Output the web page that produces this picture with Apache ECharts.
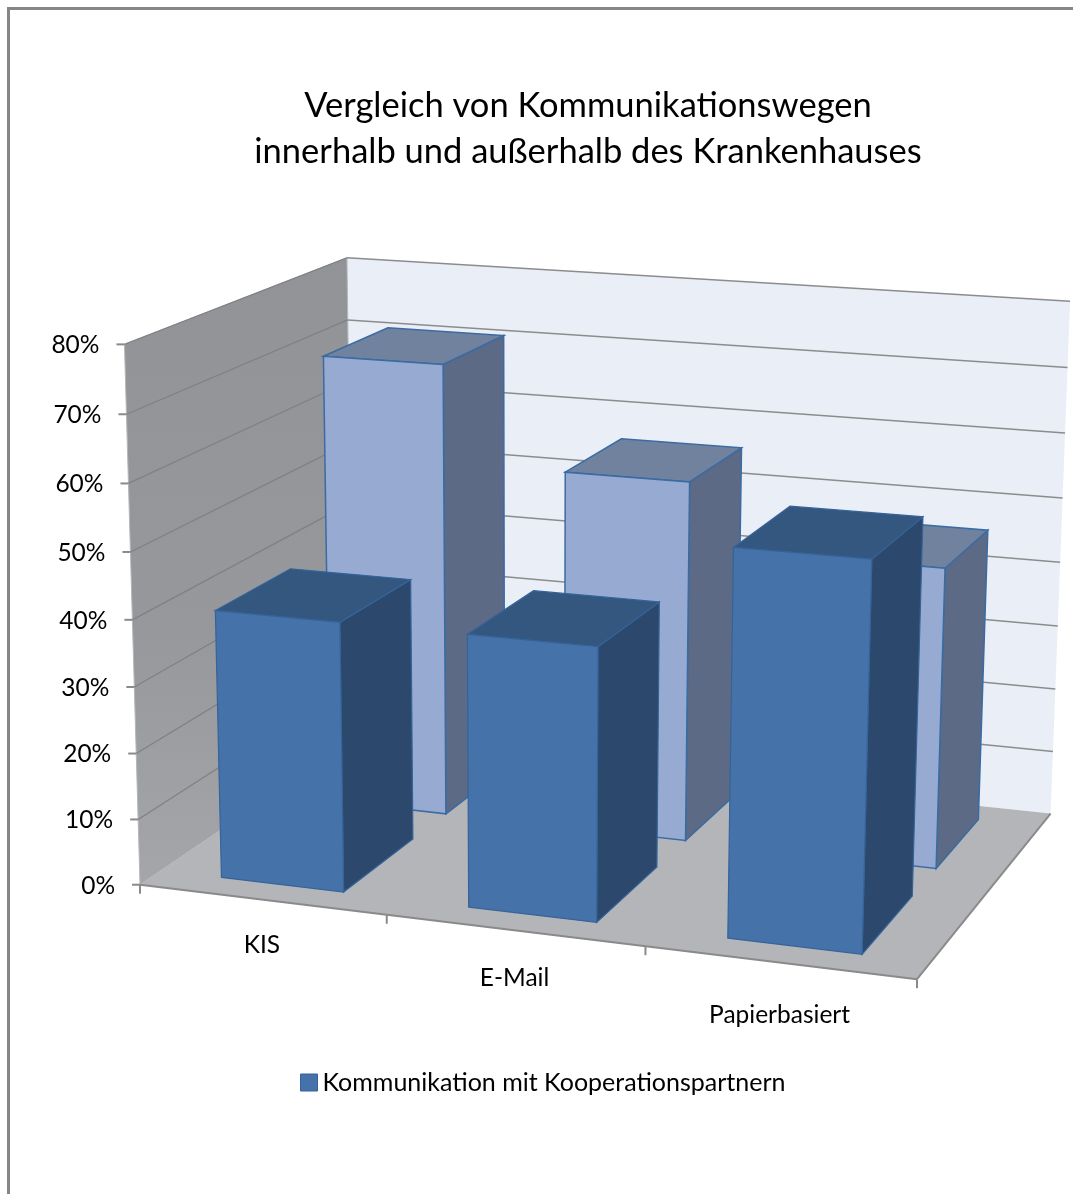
<!DOCTYPE html>
<html>
<head>
<meta charset="utf-8">
<title>Vergleich von Kommunikationswegen</title>
<script src="https://cdn.jsdelivr.net/npm/echarts@6/dist/echarts.min.js"></script>
<style>
  html, body { margin: 0; padding: 0; background: #fff; }
  #chart { width: 1073px; height: 1194px; }
</style>
</head>
<body>
<div id="chart"></div>
<script>
// chart values
const categories = ["KIS", "E-Mail", "Papierbasiert"];
const frontName = "Kommunikation mit Kooperationspartnern";
const backName = "Kommunikation innerhalb des Krankenhauses";
const frontValues = [40.5, 40.5, 56.3];
const backValues = [70.5, 55.5, 45.7];
const tickValues = [0, 10, 20, 30, 40, 50, 60, 70, 80];
const tickLabels = ["0%", "10%", "20%", "30%", "40%", "50%", "60%", "70%", "80%"];

const FONT = "Lato";
const BAR_WIDTH = 0.5; // share of the category band
const FRONT_DEPTH = [0.09, 0.425];
const BACK_DEPTH = [0.595, 0.915];
const CATEGORY_LABEL_DROP = [46, 48, 53];

// the 3d box (x along categories, y up, z into the picture) is seen in perspective.
// calibration of the camera: box position -> pixel
const calibration = [
  [0, 0, 0, 142, 884],
  [1 / 3, 0, 0, 387, 915],
  [2 / 3, 0, 0, 645, 948],
  [1, 0, 0, 917, 978],
  [0, 1, 0, 123, 344],
  [0, 0.5, 0, 132, 620],
  [0, 0, 1, 351, 740],
  [0, 1, 1, 349, 258],
  [1, 0, 1, 1052, 813],
  [1, 0.5, 1, 1059, 563],
  [1, 1, 1, 1070, 301],
];

function solveLinear(A, b) {
  const n = b.length;
  const m = A.map((row, i) => [...row, b[i]]);
  for (let c = 0; c < n; c++) {
    let p = c;
    for (let r = c + 1; r < n; r++) {
      if (Math.abs(m[r][c]) > Math.abs(m[p][c])) p = r;
    }
    [m[c], m[p]] = [m[p], m[c]];
    for (let r = 0; r < n; r++) {
      if (r === c) continue;
      const f = m[r][c] / m[c][c];
      for (let k = c; k <= n; k++) m[r][k] -= f * m[c][k];
    }
  }
  return m.map((row, i) => row[n] / row[i]);
}

// least squares for the 11 projective parameters
function fitCamera(points) {
  const rows = [];
  const rhs = [];
  points.forEach(([x, y, z, px, py]) => {
    const u = px / 1000;
    const v = py / 1000;
    rows.push([1, x, y, z, 0, 0, 0, 0, -u * x, -u * y, -u * z]);
    rhs.push(u);
    rows.push([0, 0, 0, 0, 1, x, y, z, -v * x, -v * y, -v * z]);
    rhs.push(v);
  });
  const ata = [...Array(11)].map((_a, i) =>
    [...Array(11)].map((_b, j) => rows.reduce((s, r) => s + r[i] * r[j], 0))
  );
  const atb = [...Array(11)].map((_a, i) =>
    rows.reduce((s, r, k) => s + r[i] * rhs[k], 0)
  );
  return solveLinear(ata, atb);
}

const cam = fitCamera(calibration);
function project(x, y, z) {
  const w = 1 + cam[8] * x + cam[9] * y + cam[10] * z;
  return [
    (1000 * (cam[0] + cam[1] * x + cam[2] * y + cam[3] * z)) / w,
    (1000 * (cam[4] + cam[5] * x + cam[6] * y + cam[7] * z)) / w,
  ];
}

function face(points, fill, stroke, lineWidth) {
  return {
    type: "polygon",
    shape: { points },
    style: { fill, stroke: stroke || fill, lineWidth: lineWidth === undefined ? 1 : lineWidth },
  };
}
function line(a, b, stroke, lineWidth) {
  return {
    type: "line",
    shape: { x1: a[0], y1: a[1], x2: b[0], y2: b[1] },
    style: { stroke, lineWidth },
  };
}
function label(text, x, y, align) {
  return {
    type: "text",
    x,
    y,
    style: {
      text,
      fill: "#000",
      font: `24.5px ${FONT}`,
      align,
      verticalAlign: "middle",
    },
  };
}

// the hidden grid covers the whole canvas, so axis pixels divided by canvas size give the box share
function boxX(api, i) {
  return api.coord([i, 0])[0] / api.getWidth();
}
function boxY(api, v) {
  return 1 - api.coord([0, v])[1] / api.getHeight();
}

function renderWalls() {
  const left = [project(0, 0, 0), project(0, 0, 1), project(0, 1, 1), project(0, 1, 0)];
  const back = [project(0, 0, 1), project(1, 0, 1), project(1, 1, 1), project(0, 1, 1)];
  const floor = [project(0, 0, 0), project(1, 0, 0), project(1, 0, 1), project(0, 0, 1)];
  return {
    type: "group",
    children: [
      face(back, "#e9eef7", "#e9eef7", 0),
      face(left, {
        type: "linear", x: 0, y: 0, x2: 0, y2: 1,
        colorStops: [
          { offset: 0, color: "#919396" },
          { offset: 0.6, color: "#96989b" },
          { offset: 1, color: "#a4a6a9" },
        ],
      }, "#b5b6b8", 1),
      face(floor, "#b3b5b8", "#b3b5b8", 0),
      line(project(0, 0, 0), project(1, 0, 0), "#8a8a8a", 2),
      line(project(1, 0, 0), project(1, 0, 1), "#8a8a8a", 2),
    ],
  };
}

function renderTick(params, api) {
  const y = boxY(api, api.value(1));
  const front = project(0, y, 0);
  const corner = project(0, y, 1);
  const end = project(1, y, 1);
  const children = [
    line([front[0] - 8, front[1]], front, "#8a8a8a", 2),
    label(tickLabels[params.dataIndex], front[0] - 25, front[1] + 1, "right"),
  ];
  if (api.value(1) > 0) {
    children.push(line(front, corner, "#7f8184", 1.3));
    children.push(line(corner, end, "#8c8c8c", 1.5));
  }
  return { type: "group", children };
}

function renderCategory(params, api) {
  const i = api.value(0);
  const band = 1 / categories.length;
  const mid = boxX(api, i);
  const base = project(mid, 0, 0);
  const tick = project(mid + band / 2, 0, 0);
  const children = [
    line(tick, [tick[0], tick[1] + 9], "#8a8a8a", 2),
    label(categories[i], base[0], base[1] + CATEGORY_LABEL_DROP[i], "center"),
  ];
  if (i === 0) {
    const start = project(0, 0, 0);
    children.push(line(start, [start[0], start[1] + 9], "#8a8a8a", 2));
  }
  return { type: "group", children };
}

function barRenderer(depth, colors) {
  return (params, api) => {
    const mid = boxX(api, api.value(0));
    const half = (BAR_WIDTH / categories.length) / 2;
    const x0 = mid - half;
    const x1 = mid + half;
    const y = boxY(api, api.value(1));
    const [z0, z1] = depth;
    return {
      type: "group",
      children: [
        face(
          [project(x1, 0, z0), project(x1, 0, z1), project(x1, y, z1), project(x1, y, z0)],
          colors.side, colors.edge, colors.lineWidth
        ),
        face(
          [project(x0, y, z0), project(x1, y, z0), project(x1, y, z1), project(x0, y, z1)],
          colors.top, colors.edge, colors.lineWidth
        ),
        face(
          [project(x0, 0, z0), project(x1, 0, z0), project(x1, y, z0), project(x0, y, z0)],
          colors.face, colors.edge, colors.lineWidth
        ),
      ],
    };
  };
}

const frontColors = { face: "#4572a8", side: "#2c496d", top: "#33577f", edge: "#35639a", lineWidth: 1.2 };
const backColors = { face: "#96aad2", side: "#5c6a85", top: "#71829e", edge: "#3a6ba3", lineWidth: 1.5 };

function toRows(values) {
  return values.map((v, i) => [i, v]);
}

const option = {
  animation: false,
  title: {
    text: "Vergleich von Kommunikationswegen\ninnerhalb und außerhalb des Krankenhauses",
    left: 583,
    top: 78,
    textAlign: "center",
    textStyle: {
      fontFamily: FONT,
      fontSize: 34.5,
      fontWeight: "normal",
      color: "#000",
      lineHeight: 46,
    },
  },
  legend: {
    data: [frontName],
    left: 295,
    top: 1065,
    itemWidth: 17,
    itemHeight: 17,
    icon: "rect",
    itemStyle: { borderColor: "#35639a", borderWidth: 1 },
    textStyle: { fontFamily: FONT, fontSize: 25, color: "#000" },
  },
  grid: { left: 0, right: 0, top: 0, bottom: 0 },
  xAxis: { type: "category", data: categories, show: false },
  yAxis: { type: "value", min: 0, max: 80, interval: 10, show: false },
  graphic: [
    { type: "rect", shape: { x: 7, y: 7, width: 3, height: 1187 }, style: { fill: "#868686" } },
    { type: "rect", shape: { x: 7, y: 7, width: 1066, height: 3 }, style: { fill: "#868686" } },
  ],
  series: [
    {
      name: "Wände",
      type: "custom",
      silent: true,
      z: 1,
      data: [[0, 0]],
      renderItem: renderWalls,
    },
    {
      name: "Raster",
      type: "custom",
      silent: true,
      z: 2,
      data: tickValues.map((v) => [0, v]),
      renderItem: renderTick,
    },
    {
      name: "Kategorien",
      type: "custom",
      silent: true,
      z: 2,
      data: categories.map((_c, i) => [i, 0]),
      renderItem: renderCategory,
    },
    {
      name: backName,
      type: "custom",
      silent: true,
      z: 3,
      itemStyle: { color: backColors.face },
      data: toRows(backValues),
      renderItem: barRenderer(BACK_DEPTH, backColors),
    },
    {
      name: frontName,
      type: "custom",
      silent: true,
      z: 4,
      itemStyle: { color: frontColors.face },
      data: toRows(frontValues),
      renderItem: barRenderer(FRONT_DEPTH, frontColors),
    },
  ],
};

const chart = echarts.init(document.getElementById("chart"), null, { renderer: "canvas" });
chart.setOption(option);
</script>
</body>
</html>
